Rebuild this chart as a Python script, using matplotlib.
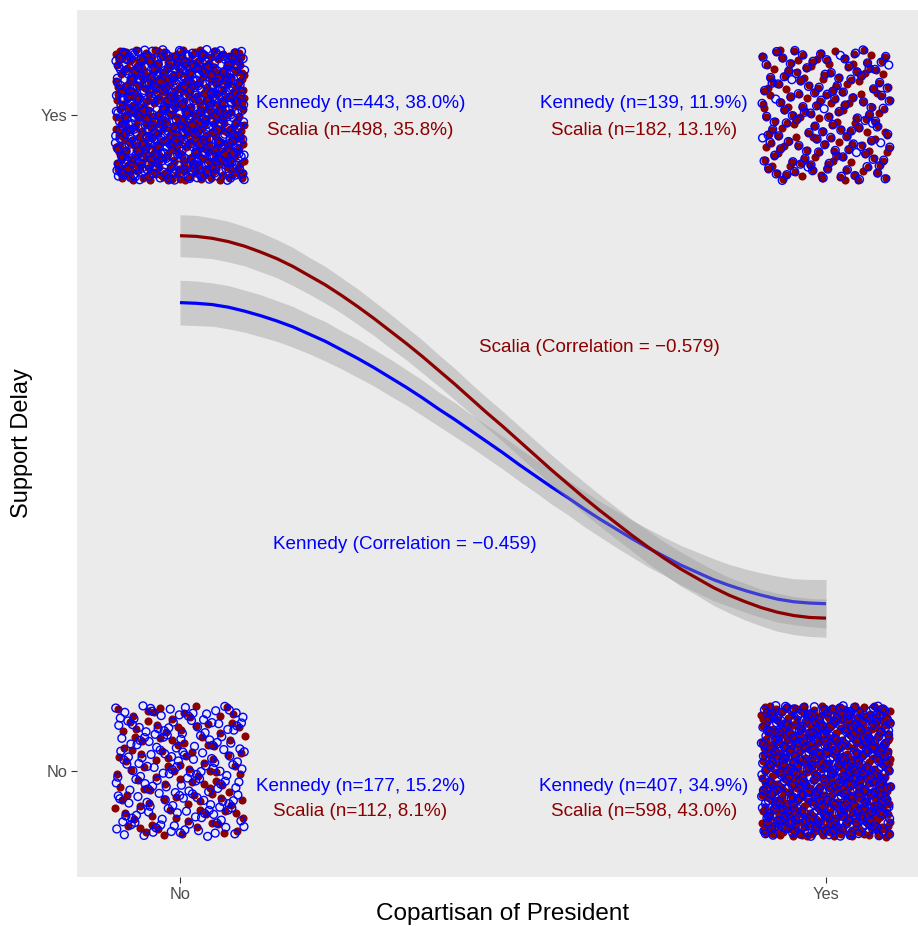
import numpy as np
import matplotlib
matplotlib.use("Agg")
import matplotlib.pyplot as plt

plt.rcParams['font.family'] = ['Liberation Sans', 'DejaVu Sans']

# ---------------- data ----------------
copartisan_labels = ["No", "Yes"]          # x categories
delay_labels = ["No", "Yes"]               # y categories
# cells: (copartisan, support delay)
cell_x = [0, 1, 0, 1]
cell_y = [1, 1, 0, 0]
kennedy_n = [443, 139, 177, 407]
scalia_n = [498, 182, 112, 598]
kennedy_corr = -0.459
scalia_corr = -0.579

# fitted curves at x = 0, 0.025, ..., 1
fit_x = [0.000, 0.025, 0.050, 0.075, 0.100, 0.125, 0.150, 0.175, 0.200, 0.225,
         0.250, 0.275, 0.300, 0.325, 0.350, 0.375, 0.400, 0.425, 0.450, 0.475,
         0.500, 0.525, 0.550, 0.575, 0.600, 0.625, 0.650, 0.675, 0.700, 0.725,
         0.750, 0.775, 0.800, 0.825, 0.850, 0.875, 0.900, 0.925, 0.950, 0.975, 1.000]
scalia_fit = [0.816, 0.815, 0.812, 0.807, 0.800, 0.791, 0.781, 0.769, 0.755, 0.741,
              0.725, 0.708, 0.690, 0.671, 0.652, 0.632, 0.611, 0.590, 0.568, 0.546,
              0.525, 0.503, 0.481, 0.459, 0.438, 0.417, 0.397, 0.378, 0.359, 0.341,
              0.324, 0.308, 0.294, 0.280, 0.268, 0.258, 0.249, 0.242, 0.237, 0.234, 0.233]
scalia_se = [0.032, 0.032, 0.031, 0.031, 0.030, 0.030, 0.029, 0.029, 0.028, 0.028,
             0.027, 0.027, 0.026, 0.026, 0.025, 0.025, 0.024, 0.024, 0.023, 0.023,
             0.023, 0.023, 0.023, 0.023, 0.023, 0.024, 0.024, 0.024, 0.024, 0.025,
             0.025, 0.026, 0.026, 0.027, 0.027, 0.028, 0.028, 0.029, 0.029, 0.029, 0.029]
kennedy_fit = [0.714, 0.713, 0.711, 0.707, 0.701, 0.694, 0.686, 0.677, 0.666, 0.655,
               0.642, 0.629, 0.615, 0.600, 0.585, 0.569, 0.552, 0.536, 0.519, 0.502,
               0.485, 0.467, 0.450, 0.433, 0.417, 0.400, 0.384, 0.369, 0.354, 0.340,
               0.327, 0.314, 0.303, 0.292, 0.283, 0.275, 0.268, 0.262, 0.258, 0.256, 0.255]
kennedy_se = [0.034, 0.034, 0.033, 0.033, 0.032, 0.032, 0.031, 0.031, 0.030, 0.030,
              0.029, 0.029, 0.028, 0.028, 0.027, 0.027, 0.026, 0.026, 0.025, 0.025,
              0.025, 0.025, 0.025, 0.026, 0.026, 0.027, 0.027, 0.028, 0.028, 0.029,
              0.029, 0.030, 0.031, 0.032, 0.032, 0.033, 0.034, 0.035, 0.035, 0.036, 0.037]

KEN_COL = "#0000FF"
SCA_COL = "#8B0000"

# ---------------- figure ----------------
W, H = 918, 926
fig = plt.figure(figsize=(W / 100, H / 100), dpi=100)
ax = fig.add_axes([77 / W, 1 - 877 / H, (918 - 77) / W, (877 - 10) / H])
ax.set_facecolor("#EBEBEB")
for s in ax.spines.values():
    s.set_visible(False)


def halton(i, b):
    f, r = 1.0, 0.0
    while i > 0:
        f /= b
        r += f * (i % b)
        i //= b
    return r


def jitter(n, start):
    jx = np.array([halton(start + k, 2) for k in range(n)]) * 0.2 - 0.1
    jy = np.array([halton(start + k, 3) for k in range(n)]) * 0.2 - 0.1
    return jx, jy


# jittered points
for c in range(4):
    sx, sy = jitter(scalia_n[c], 37 + 1500 * c)
    ax.scatter(cell_x[c] + sx, cell_y[c] + sy, s=34, color=SCA_COL,
               linewidths=0, zorder=2)
    kx, ky = jitter(kennedy_n[c], 11 + 700 * c + 6000)
    ax.scatter(cell_x[c] + kx, cell_y[c] + ky, s=32, facecolors="none",
               edgecolors=KEN_COL, linewidths=1.0, zorder=2)

# smooth curves with bands
fx = np.array(fit_x)
kf, ks = np.array(kennedy_fit), np.array(kennedy_se)
sf, ss = np.array(scalia_fit), np.array(scalia_se)
ax.fill_between(fx, kf - ks, kf + ks, color="#999999", alpha=0.4, linewidth=0, zorder=3)
ax.plot(fx, kf, color=KEN_COL, lw=2.3, zorder=3, solid_capstyle="butt",
        solid_joinstyle="round")
ax.fill_between(fx, sf - ss, sf + ss, color="#999999", alpha=0.4, linewidth=0, zorder=3)
ax.plot(fx, sf, color=SCA_COL, lw=2.3, zorder=3, solid_capstyle="butt",
        solid_joinstyle="round")

# count annotations
ken_tot = sum(kennedy_n)
sca_tot = sum(scalia_n)
label_x = {0: 0.279, 1: 0.718}
label_y_k = {1: 1.017, 0: -0.024}
label_y_s = {1: 0.976, 0: -0.062}
fs = 13.6
for c in range(4):
    x0, y0 = cell_x[c], cell_y[c]
    ax.text(label_x[x0], label_y_k[y0],
            f"Kennedy (n={kennedy_n[c]}, {100 * kennedy_n[c] / ken_tot:.1f}%)",
            color=KEN_COL, ha="center", va="center", fontsize=fs, zorder=4)
    ax.text(label_x[x0], label_y_s[y0],
            f"Scalia (n={scalia_n[c]}, {100 * scalia_n[c] / sca_tot:.1f}%)",
            color=SCA_COL, ha="center", va="center", fontsize=fs, zorder=4)

ax.text(0.649, 0.645, f"Scalia (Correlation = \u2212{abs(scalia_corr):.3f})",
        color=SCA_COL, ha="center", va="center", fontsize=fs, zorder=4)
ax.text(0.348, 0.346, f"Kennedy (Correlation = \u2212{abs(kennedy_corr):.3f})",
        color=KEN_COL, ha="center", va="center", fontsize=fs, zorder=4)

# axes
ax.set_xlim((77 - 180) / 646, (918 - 180) / 646)
ax.set_ylim((771 - 877) / 656, (771 - 10) / 656)
ax.set_xticks([0, 1])
ax.set_xticklabels(copartisan_labels)
ax.set_yticks([0, 1])
ax.set_yticklabels(delay_labels)
ax.tick_params(axis="both", length=4, width=0.8, color="#333333",
               labelcolor="#4D4D4D", labelsize=11.8, pad=3)

fig.text(22 / W, 1 - 443 / H, "Support Delay", rotation=90, ha="center",
         va="center", fontsize=17)
fig.text(503 / W, 1 - 914 / H, "Copartisan of President", ha="center",
         va="center", fontsize=17.5)

fig.savefig("out.png", dpi=100, facecolor="white")
